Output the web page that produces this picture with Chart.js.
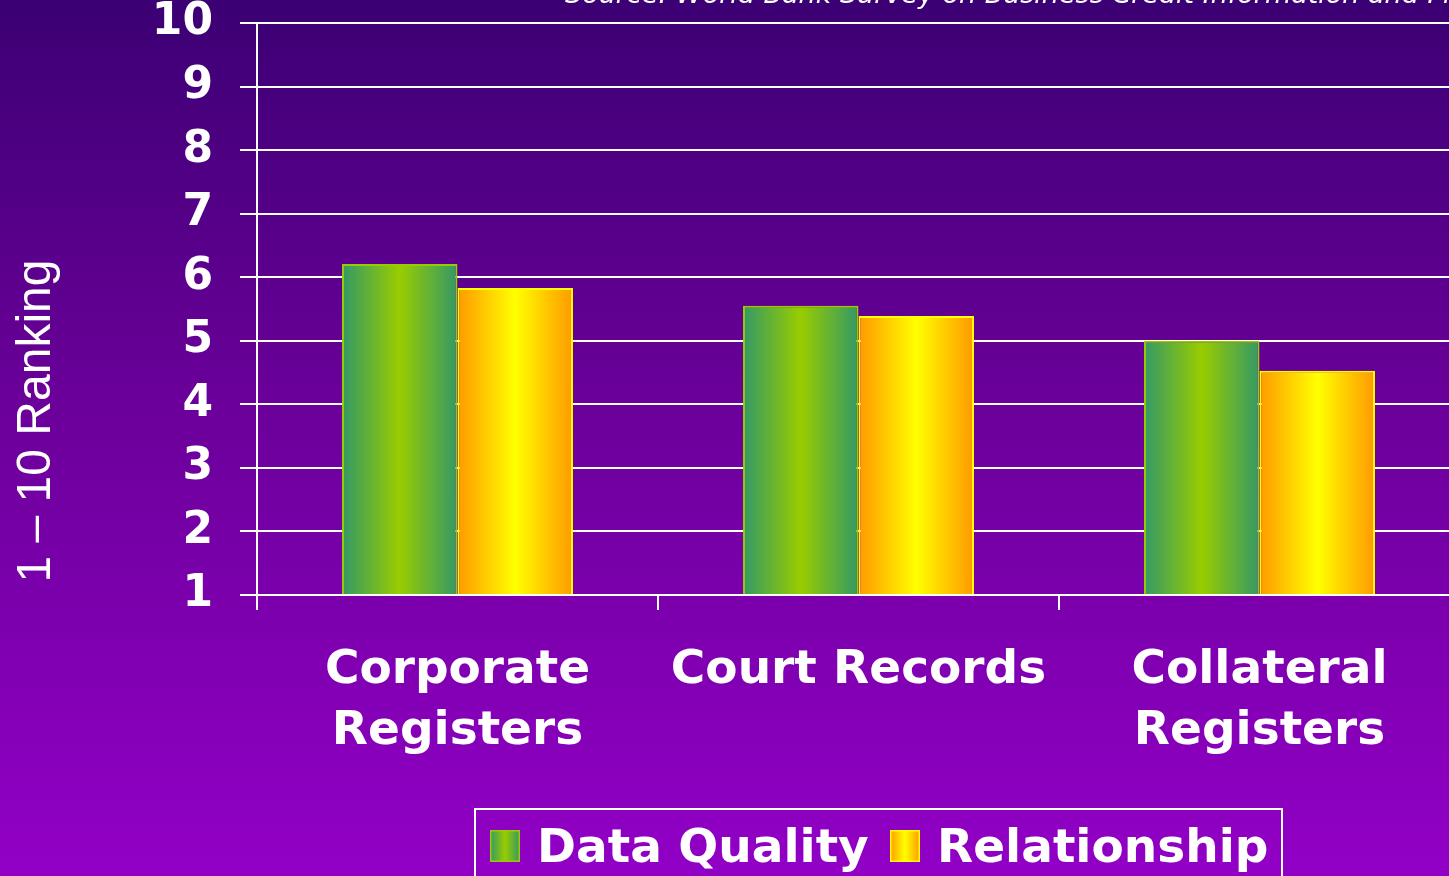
<!DOCTYPE html>
<html>
<head>
<meta charset="utf-8">
<script src="https://cdn.jsdelivr.net/npm/chart.js@4/dist/chart.umd.min.js"></script>
<style>
html,body{margin:0;padding:0;overflow:hidden;width:1449px;height:876px;}
body{background:linear-gradient(to bottom,#3b0073 0%,#6a0099 45%,#9200c6 100%);}
canvas{display:block;position:absolute;left:0;top:0;}
</style>
</head>
<body>
<canvas id="c" width="1460" height="900"></canvas>
<script>
const categories = [["Corporate","Registers"], "Court Records", ["Collateral","Registers"]];
const dataQuality = [6.21, 5.55, 5.0];
const relationship = [5.83, 5.39, 4.53];
const seriesNames = ["Data Quality", "Relationship"];
const yTicks = [1,2,3,4,5,6,7,8,9,10];
const yTitle = "1 \u2013 10 Ranking";
const sourceText = "Source: World Bank Survey on Business Credit Information and Financial Infrastructure";

const gradStops = [
  ["#339966", "#99cc00", "#339966"],
  ["#ff9900", "#ffff00", "#ff9900"]
];
const borderCols = ["#99cc00", "#ffff00"];

function makeGrad(ctx, x0, x1, stops){
  const g = ctx.createLinearGradient(x0, 0, x1, 0);
  g.addColorStop(0, stops[0]);
  g.addColorStop(0.5, stops[1]);
  g.addColorStop(1, stops[2]);
  return g;
}

const gradientPlugin = {
  id: 'barGrad',
  beforeDatasetsDraw(chart){
    const ctx = chart.ctx;
    chart.data.datasets.forEach((ds, di) => {
      const meta = chart.getDatasetMeta(di);
      meta.data.forEach(el => {
        const x0 = el.x - el.width/2, x1 = el.x + el.width/2;
        el.options.backgroundColor = makeGrad(ctx, x0, x1, gradStops[di]);
      });
    });
  }
};

const decorPlugin = {
  id: 'decor',
  afterDraw(chart){
    const ctx = chart.ctx;
    ctx.save();
    ctx.fillStyle = '#ffffff';
    ctx.font = 'italic 27px "DejaVu Sans"';
    ctx.textBaseline = 'alphabetic';
    ctx.textAlign = 'left';
    ctx.fillText(sourceText, 565, 3);
    ctx.save();
    ctx.translate(37, 421);
    ctx.rotate(-Math.PI/2);
    ctx.font = '48px "Liberation Sans"';
    ctx.textAlign = 'center';
    ctx.textBaseline = 'middle';
    ctx.fillText(yTitle, 0, 0);
    ctx.restore();
    ctx.strokeStyle = '#ffffff';
    ctx.lineWidth = 2;
    ctx.strokeRect(475, 809, 807, 120);
    ctx.font = 'bold 47px "DejaVu Sans"';
    ctx.textBaseline = 'alphabetic';
    const swX = [490, 890];
    const txX = [537, 937];
    seriesNames.forEach((name, i) => {
      ctx.fillStyle = makeGrad(ctx, swX[i], swX[i]+30, gradStops[i]);
      ctx.fillRect(swX[i], 830, 30, 32);
      ctx.strokeStyle = borderCols[i];
      ctx.lineWidth = 1.5;
      ctx.strokeRect(swX[i]+0.75, 830.75, 28.5, 30.5);
      ctx.fillStyle = '#ffffff';
      ctx.fillText(name, txX[i], 862);
    });
    ctx.restore();
  }
};

new Chart(document.getElementById('c'), {
  type: 'bar',
  data: {
    labels: categories,
    datasets: [
      { label: seriesNames[0], data: dataQuality, backgroundColor: () => '#99cc00', borderColor: borderCols[0], borderWidth: 2, base: 1 },
      { label: seriesNames[1], data: relationship, backgroundColor: () => '#ffff00', borderColor: borderCols[1], borderWidth: 2, base: 1 }
    ]
  },
  options: {
    responsive: false,
    animation: false,
    events: [],
    layout: { padding: 0 },
    datasets: { bar: { categoryPercentage: 0.576, barPercentage: 1.0 } },
    plugins: { legend: { display: false }, tooltip: { enabled: false } },
    scales: {
      x: {
        offset: true,
        grid: { offset: true, drawOnChartArea: false, drawTicks: true, tickLength: 15, color: '#ffffff', lineWidth: 2 },
        border: { display: true, color: '#ffffff', width: 2 },
        ticks: {
          color: '#ffffff',
          padding: 30,
          maxRotation: 0,
          autoSkip: false,
          font: { family: '"DejaVu Sans"', weight: 'bold', size: 47, lineHeight: 1.3 }
        },
        afterFit(scale){ scale.height = 305; scale.paddingLeft = 0; scale.paddingRight = 0; }
      },
      y: {
        min: 1, max: 10,
        afterBuildTicks(scale){ scale.ticks = yTicks.map(v => ({ value: v })); },
        grid: { color: '#ffffff', lineWidth: 2, tickLength: 17, drawTicks: true },
        border: { display: true, color: '#ffffff', width: 2 },
        ticks: {
          color: '#ffffff',
          padding: 27,
          font: { family: '"DejaVu Sans"', weight: 'bold', size: 44 }
        },
        afterFit(scale){ scale.width = 257; scale.paddingTop = 23; scale.paddingBottom = 0; }
      }
    }
  },
  plugins: [gradientPlugin, decorPlugin]
});
</script>
</body>
</html>
